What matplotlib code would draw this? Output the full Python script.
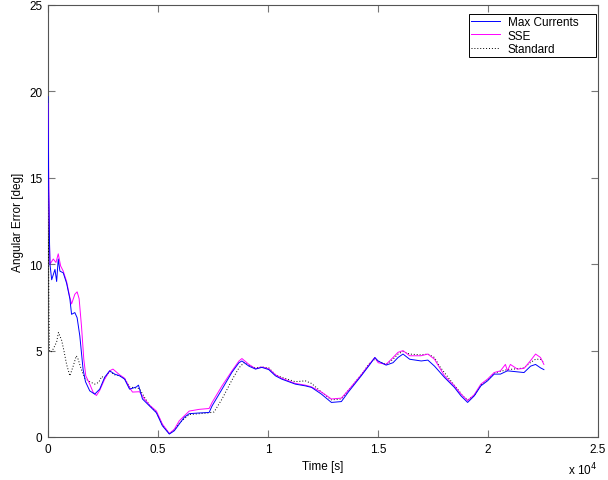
import matplotlib
matplotlib.use("Agg")
import matplotlib.pyplot as plt
from matplotlib.ticker import FixedLocator, FuncFormatter

plt.rcParams['font.family'] = ['Liberation Sans', 'DejaVu Sans']

# ---- data (time in seconds, angular error in degrees) ----
t_max = [0, 15, 30, 50, 70, 90, 167, 317, 393, 466, 542, 692, 845, 994, 1071, 1220, 1324,
         1446, 1596, 1704, 1898, 2124, 2351, 2577, 2803, 3029, 3255, 3481, 3707, 4009, 4113,
         4294, 4611, 4928, 5199, 5515, 5741, 5967, 6193, 6419, 6871, 7324, 7459, 7911, 8363,
         8680, 8815, 9132, 9434, 9719, 10036, 10338, 10623, 11242, 11694, 11978, 12430, 12882,
         13334, 13650, 14238, 14631, 14857, 15006, 15368, 15684, 15910, 16136, 16440, 16964,
         17266, 17569, 18021, 18473, 18772, 19073, 19376, 19676, 19978, 20281, 20566, 20882,
         21334, 21637, 21936, 22162, 22388, 22541]
max_currents = [19.7, 17.3, 14.3, 13.0, 11.2, 10.0, 9.1, 9.7, 9.0, 10.3, 9.6, 9.5, 8.9, 8.0, 7.1,
                7.2, 6.9, 5.85, 3.9, 3.2, 2.67, 2.48, 2.77, 3.46, 3.83, 3.64, 3.54, 3.35, 2.77,
                2.89, 3.0, 2.2, 1.8, 1.4, 0.65, 0.17, 0.36, 0.75, 1.14, 1.35, 1.39, 1.42, 1.8,
                2.77, 3.75, 4.3, 4.4, 4.1, 3.93, 4.03, 3.9, 3.54, 3.35, 3.06, 2.96, 2.87, 2.48,
                2.0, 2.05, 2.6, 3.54, 4.2, 4.6, 4.4, 4.16, 4.3, 4.6, 4.8, 4.5, 4.4, 4.45, 4.1,
                3.45, 2.87, 2.38, 2.0, 2.38, 2.96, 3.25, 3.64, 3.64, 3.83, 3.77, 3.73, 4.1, 4.2,
                4.0, 3.9]

t_sse = [0, 15, 30, 50, 70, 90, 240, 362, 466, 574, 692, 845, 994, 1071, 1220, 1324, 1415,
         1523, 1627, 1718, 1898, 2048, 2201, 2351, 2577, 2803, 2952, 3255, 3481, 3707, 3842,
         4158, 4384, 4611, 4928, 5199, 5515, 5741, 5967, 6419, 6871, 7324, 7459, 7911, 8363,
         8680, 8815, 9132, 9434, 9719, 10036, 10338, 10623, 11242, 11694, 11978, 12430, 12882,
         13334, 13650, 14238, 14631, 14857, 15006, 15368, 15684, 15910, 16136, 16440, 16950,
         17266, 17569, 18021, 18473, 18772, 19073, 19376, 19676, 19978, 20281, 20566, 20792,
         20882, 21018, 21334, 21637, 21921, 22162, 22388, 22541]
sse = [19.3, 18.0, 15.5, 13.0, 11.0, 10.0, 10.3, 10.1, 10.6, 9.9, 9.6, 9.0, 8.07, 7.7, 8.26,
       8.4, 8.0, 6.4, 4.5, 3.54, 3.06, 2.6, 2.4, 2.7, 3.35, 3.83, 3.93, 3.6, 3.4, 2.85, 2.6,
       2.62, 2.2, 1.85, 1.5, 0.75, 0.2, 0.45, 0.94, 1.5, 1.6, 1.65, 2.0, 2.96, 3.83, 4.4,
       4.54, 4.2, 3.95, 4.05, 3.95, 3.6, 3.4, 3.1, 3.0, 2.9, 2.6, 2.2, 2.25, 2.7, 3.6, 4.25,
       4.6, 4.3, 4.2, 4.6, 4.9, 5.0, 4.7, 4.7, 4.8, 4.5, 3.54, 2.96, 2.48, 2.1, 2.45, 3.06,
       3.35, 3.73, 3.83, 4.2, 3.83, 4.2, 3.93, 3.97, 4.4, 4.8, 4.6, 4.2]

t_std = [0, 20, 45, 70, 122, 240, 393, 475, 619, 723, 845, 994, 1144, 1288, 1370, 1492, 1672,
         1898, 2124, 2305, 2441, 2577, 2803, 3029, 3255, 3481, 3707, 4158, 4384, 4611, 4928,
         5199, 5515, 5741, 5967, 6419, 6871, 7324, 7550, 7911, 8363, 8680, 8906, 9132, 9434,
         9719, 10036, 10338, 10623, 11242, 11694, 11978, 12430, 12882, 13334, 13650, 14238,
         14631, 14857, 15006, 15368, 15684, 15910, 16136, 16440, 16950, 17266, 17569, 17795,
         18247, 18532, 18850, 19073, 19376, 19676, 19978, 20281, 20566, 20882, 21334, 21637,
         21921, 22162, 22388, 22541]
standard = [16.5, 11.0, 7.0, 5.0, 4.9, 5.1, 5.5, 6.05, 5.6, 5.0, 4.2, 3.54, 4.1, 4.7, 4.5,
            4.0, 3.4, 3.2, 3.06, 3.16, 3.5, 3.4, 3.8, 3.6, 3.55, 3.4, 2.9, 2.8, 2.3, 1.85,
            1.45, 0.7, 0.2, 0.4, 0.8, 1.3, 1.35, 1.4, 1.45, 2.2, 3.3, 4.0, 4.3, 4.15, 4.0,
            4.05, 4.0, 3.6, 3.45, 3.2, 3.25, 3.1, 2.6, 2.15, 2.2, 2.7, 3.6, 4.3, 4.5, 4.4,
            4.2, 4.5, 4.8, 4.95, 4.8, 4.75, 4.8, 4.6, 4.1, 3.35, 2.9, 2.4, 2.15, 2.4, 3.0,
            3.3, 3.7, 3.8, 3.9, 3.95, 4.0, 4.3, 4.5, 4.5, 4.3]

x_ticks = [0, 5000, 10000, 15000, 20000, 25000]
x_tick_labels = ['0', '0.5', '1', '1.5', '2', '2.5']
y_ticks = [0, 5, 10, 15, 20, 25]
series_names = ['Max Currents', 'SSE', 'Standard']

# ---- figure ----
fig = plt.figure(figsize=(6.08, 4.81), dpi=100)
ax = fig.add_axes([48 / 608, 43 / 481, 550 / 608, 432 / 481])

ax.plot(t_std, standard, color='#000000', lw=0.7, ls=(0, (1, 2)), label=series_names[2],
        zorder=3)
ax.plot(t_sse, sse, color='#ff00ff', lw=0.7, label=series_names[1], zorder=3)
ax.plot(t_max, max_currents, color='#0000ff', lw=0.7, label=series_names[0], zorder=3)

ax.set_xlim(0, 25000)
ax.set_ylim(0, 25)
ax.xaxis.set_major_locator(FixedLocator(x_ticks))
ax.xaxis.set_major_formatter(FuncFormatter(lambda v, p: x_tick_labels[x_ticks.index(int(round(v)))]
                                            if int(round(v)) in x_ticks else ''))
ax.yaxis.set_major_locator(FixedLocator(y_ticks))

for s in ax.spines.values():
    s.set_color('#555555')
    s.set_linewidth(0.8)
    s.set_zorder(2.5)
ax.tick_params(direction='in', length=5, width=0.8, color='#777777', labelsize=8.5,
               top=True, right=True, pad=4)

ax.set_xlabel('Time [s]', fontsize=8.5, labelpad=4)
ax.set_ylabel('Angular Error [deg]', fontsize=8.5, labelpad=4)
fig.text(568 / 608, 1 - 470 / 481, r'x 10$^4$', fontsize=8.5, va='center', ha='left')

handles, labels = ax.get_legend_handles_labels()
order = [2, 1, 0]
leg = ax.legend([handles[i] for i in order], [labels[i] for i in order],
                loc='upper right', bbox_to_anchor=(0.7655, 0.88, 0.2315, 0.099),
                mode='expand', fontsize=8.5, frameon=True,
                fancybox=False, framealpha=1, edgecolor='#000000', borderpad=0.2,
                labelspacing=0.1, handlelength=2.4, handletextpad=0.7, borderaxespad=0.0)
leg.get_frame().set_linewidth(0.7)
leg.set_zorder(5)

fig.savefig('out.png', dpi=100)
